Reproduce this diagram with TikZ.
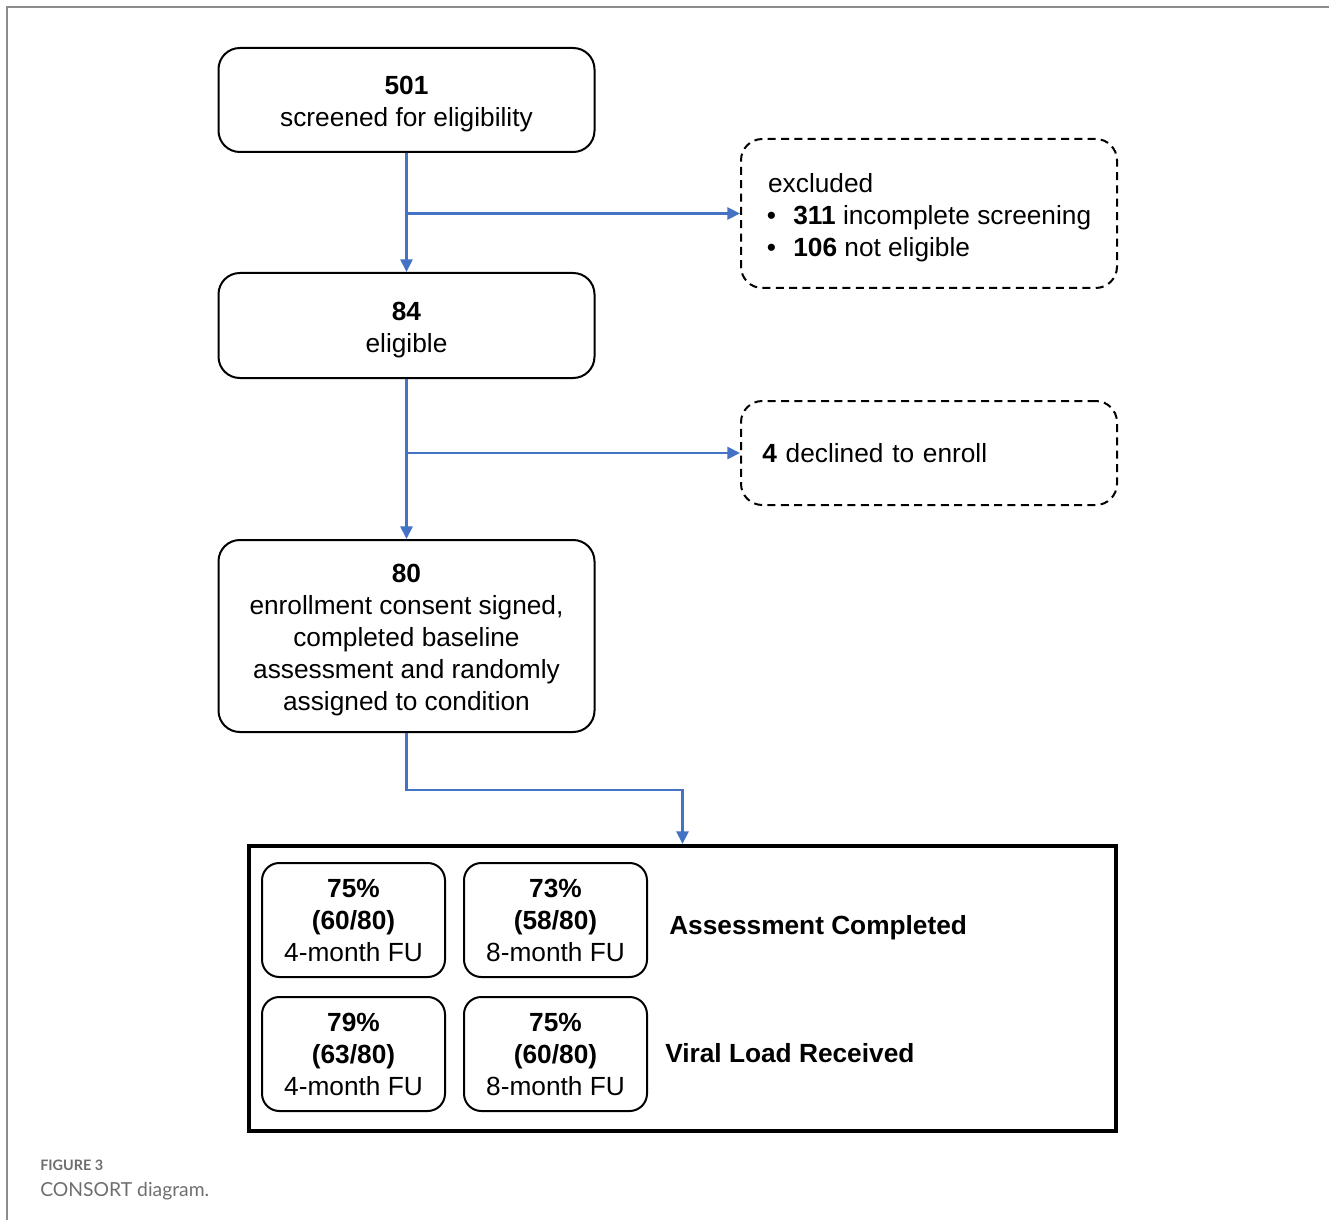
\documentclass[tikz,border=0pt]{standalone}
\usepackage{fontspec}
\setmainfont{Liberation Sans}
\newfontfamily\capfont{Lato}
\usetikzlibrary{arrows.meta}
\definecolor{flowblue}{HTML}{4472C4}
\definecolor{capgray}{HTML}{6E6E6E}
\definecolor{framegray}{HTML}{8C8C8C}
\newcommand\lift{\rule{0pt}{20pt}}
\tikzset{
  stage/.style={draw,line width=1.5pt,rounded corners=16pt,align=center,
    minimum width=282pt,inner sep=0pt},
  side/.style={draw,line width=1.5pt,dash pattern=on 6pt off 4pt,
    rounded corners=16pt,align=left,minimum width=282pt,inner sep=0pt},
  cell/.style={draw,line width=1.5pt,rounded corners=13pt,align=center,
    minimum width=137.25pt,minimum height=85.5pt,inner sep=0pt},
  flow/.style={draw=flowblue,line width=2.2pt,-{Triangle[length=9.5pt,width=9pt]}}
}
\begin{document}
\begin{tikzpicture}[x=0.75pt,y=-0.75pt,font=\fontsize{19.7}{24}\selectfont]
      \useasboundingbox (0,0) rectangle (1329,1220);
      \draw[framegray,line width=1.5pt] (1329,7) -- (7,7) -- (7,1220);
      \node[stage,minimum height=78pt] (scr) at (406.5,100)
        {\lift\textbf{501}\\screened for eligibility};
      \node[stage,minimum height=78.75pt] (elig) at (406.5,325.5)
        {\lift\textbf{84}\\eligible};
      \node[stage,minimum height=144pt] (enr) at (406.5,636)
        {\lift\textbf{80}\\enrollment consent signed,\\completed baseline\\assessment and randomly\\assigned to condition};
      \node[side,minimum height=111.75pt] (excl) at (929,213.5)
        {\lift\hspace{1pt}excluded\\\textbullet\hspace{13pt}\textbf{311} incomplete screening\\\textbullet\hspace{13pt}\textbf{106} not eligible};
      \node[side,minimum height=78pt,text width=250pt,inner xsep=16pt] (decl) at (929,453)
        {\textbf{4} declined to enroll};
      \node[draw,line width=3pt,minimum width=650.25pt,minimum height=213.75pt,inner sep=0pt] (res) at (682.5,988.5) {};
      \node[cell] (a4) at (353.5,920) {\textbf{75\%}\\\textbf{(60/80)}\\4-month FU};
      \node[cell] (a8) at (555.5,920) {\textbf{73\%}\\\textbf{(58/80)}\\8-month FU};
      \node[cell] (v4) at (353.5,1054) {\textbf{79\%}\\\textbf{(63/80)}\\4-month FU};
      \node[cell] (v8) at (555.5,1054) {\textbf{75\%}\\\textbf{(60/80)}\\8-month FU};
      \node[anchor=west,inner sep=0pt,font=\fontsize{19.7}{24}\selectfont\bfseries] (acomp) at (669,928) {Assessment Completed};
      \node[anchor=west,inner sep=0pt,font=\fontsize{19.7}{24}\selectfont\bfseries] (vload) at (665,1053) {Viral Load Received};
      \node[anchor=base west,inner sep=0pt,text=capgray,font=\capfont\fontsize{10.8}{12}\selectfont\bfseries] (fig) at (40,1170) {FIGURE 3};
      \node[anchor=base west,inner sep=0pt,text=capgray,font=\capfont\fontsize{14.5}{16}\selectfont] (cap) at (40,1196) {CONSORT diagram.};
      \begin{scope}[flow]
        \draw (scr) -- (elig);
        \draw (excl.west -| scr.south) -- (excl.west);
        \draw (elig) -- (enr);
        \draw (decl.west -| elig.south) -- (decl.west);
        \draw (enr.south) -- ++(0,57) -| (res.north);
      \end{scope}
    \end{tikzpicture}
\end{document}
